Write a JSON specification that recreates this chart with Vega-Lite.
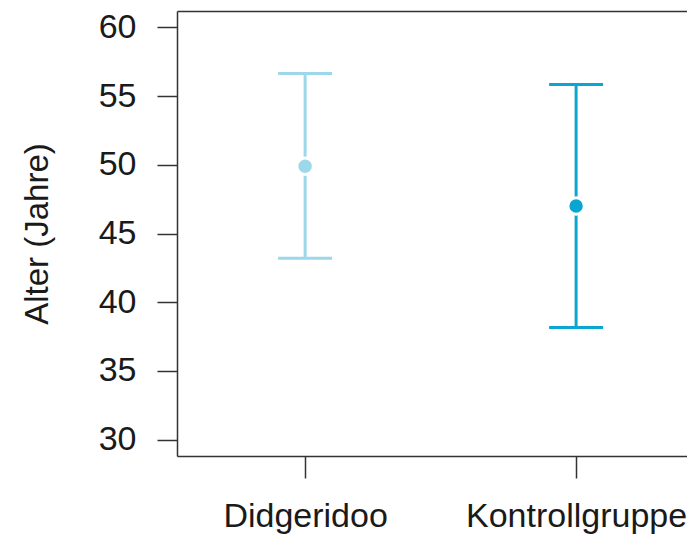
{
  "$schema": "https://vega.github.io/schema/vega-lite/v6.json",
  "width": 510,
  "height": 445,
  "autosize": {"type": "none"},
  "padding": {"left": 177, "top": 11, "right": 0, "bottom": 84},
  "background": "white",
  "config": {
    "view": {"stroke": null},
    "font": "Liberation Sans",
    "axis": {
      "grid": false,
      "domainColor": "#333333",
      "domainWidth": 1.5,
      "tickColor": "#333333",
      "tickWidth": 1.5,
      "labelFont": "Liberation Sans",
      "labelFontSize": 34,
      "labelColor": "#1a1a1a",
      "labelLimit": 0,
      "labelOverlap": false,
      "titleFont": "Liberation Sans",
      "titleFontSize": 33,
      "titleFontWeight": "normal",
      "titleColor": "#1a1a1a"
    }
  },
  "data": {
    "values": [
      {"gruppe": "Didgeridoo", "mittel": 49.9, "unten": 43.2, "oben": 56.65},
      {"gruppe": "Kontrollgruppe", "mittel": 47.0, "unten": 38.15, "oben": 55.85}
    ]
  },
  "layer": [
    {
      "mark": {"type": "rule", "strokeWidth": 3},
      "encoding": {
        "x": {
          "field": "gruppe", "type": "nominal", "sort": null,
          "scale": {"type": "point", "padding": 0.441, "align": 0.536},
          "axis": {"orient": "bottom", "title": null, "labelAngle": 0, "tickSize": 22, "labelPadding": 21, "labelBound": false}
        },
        "y": {
          "field": "unten", "type": "quantitative", "title": "Alter (Jahre)",
          "scale": {"domain": [28.8, 61.2], "nice": false, "zero": false},
          "axis": {"values": [30, 35, 40, 45, 50, 55, 60], "tickSize": 20, "labelPadding": 21, "titlePadding": 44}
        },
        "y2": {"field": "oben"},
        "color": {
          "field": "gruppe", "type": "nominal",
          "scale": {"domain": ["Didgeridoo", "Kontrollgruppe"], "range": ["#9dd7ea", "#0aa6d1"]},
          "legend": null
        }
      }
    },
    {
      "mark": {"type": "tick", "size": 54, "thickness": 3, "opacity": 1},
      "encoding": {
        "x": {
          "field": "gruppe", "type": "nominal", "sort": null,
          "axis": {"orient": "top", "title": null, "labels": false, "ticks": false, "domain": true}
        },
        "y": {"field": "unten", "type": "quantitative", "title": "Alter (Jahre)"},
        "color": {"field": "gruppe", "type": "nominal", "legend": null}
      }
    },
    {
      "mark": {"type": "tick", "size": 54, "thickness": 3, "opacity": 1},
      "encoding": {
        "x": {"field": "gruppe", "type": "nominal", "sort": null, "axis": null},
        "y": {"field": "oben", "type": "quantitative", "title": "Alter (Jahre)"},
        "color": {"field": "gruppe", "type": "nominal", "legend": null}
      }
    },
    {
      "mark": {"type": "point", "filled": true, "size": 270, "opacity": 1, "stroke": "white", "strokeWidth": 3, "strokeOpacity": 1},
      "encoding": {
        "x": {"field": "gruppe", "type": "nominal", "sort": null, "axis": null},
        "y": {"field": "mittel", "type": "quantitative", "title": "Alter (Jahre)"},
        "fill": {"field": "gruppe", "type": "nominal", "scale": {"domain": ["Didgeridoo", "Kontrollgruppe"], "range": ["#9dd7ea", "#0aa6d1"]}, "legend": null}
      }
    }
  ],
  "resolve": {"axis": {"x": "independent"}}
}
